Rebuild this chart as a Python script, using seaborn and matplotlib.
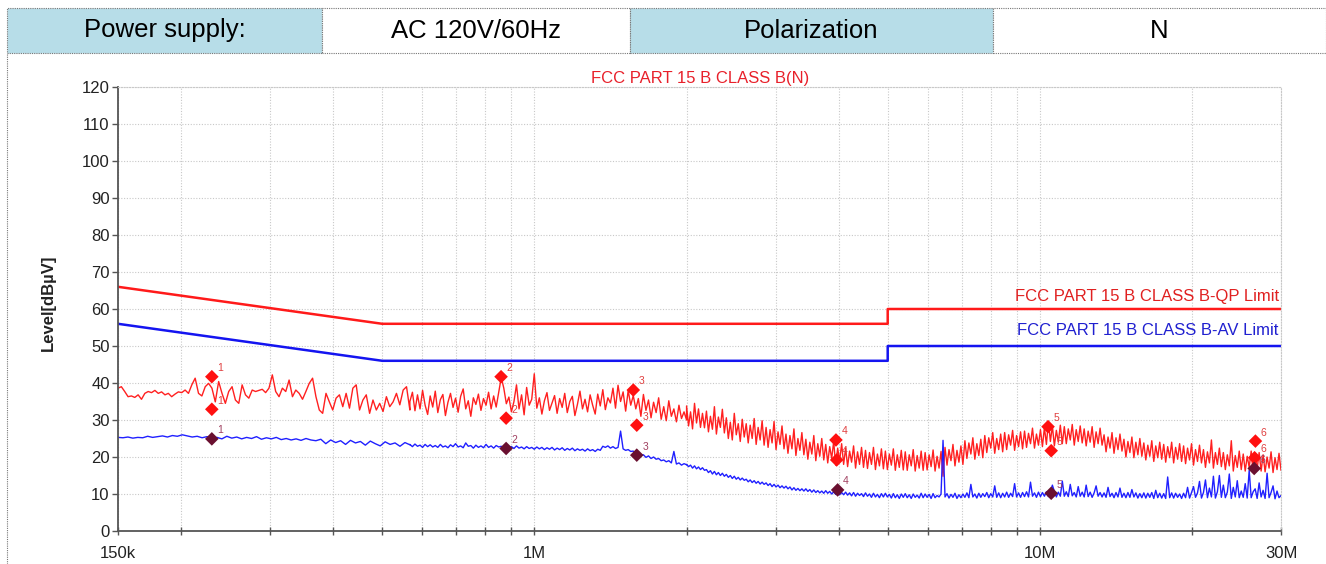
import numpy as np
import pandas as pd
import matplotlib
matplotlib.use("Agg")
import matplotlib.pyplot as plt
import matplotlib.transforms as mtransforms
from matplotlib.patches import Rectangle
from matplotlib.lines import Line2D
import seaborn as sns

# ---------------- data (frequencies in MHz, levels in dBuV) ----------------
header_cells = ["Power supply:", "AC 120V/60Hz", "Polarization", "N"]

qp_limit_freq = [0.15, 0.5, 5.0, 5.0, 30.0]
qp_limit_level = [66, 56, 56, 60, 60]
av_limit_freq = [0.15, 0.5, 5.0, 5.0, 30.0]
av_limit_level = [56, 46, 46, 50, 50]

# peak scan (red), segment A: 150 kHz - 567 kHz
peak_a = [38.6, 39.0, 37.7, 36.3, 36.5, 36.1, 36.8, 35.6, 37.2, 37.7,
          37.4, 38.0, 37.2, 37.6, 36.8, 37.2, 36.3, 37.0, 37.6, 37.4,
          38.1, 37.2, 39.5, 41.3, 37.2, 36.5, 39.0, 39.9, 38.6, 34.9,
          40.4, 37.2, 34.5, 37.7, 39.0, 35.4, 34.5, 39.5, 36.8, 35.9,
          38.1, 37.7, 38.0, 38.3, 37.4, 38.6, 42.2, 37.7, 36.3, 38.6,
          37.7, 40.8, 36.3, 38.1, 37.2, 35.6, 37.7, 39.9, 41.3, 36.3,
          32.7, 31.8, 37.2, 34.9, 32.7, 35.9, 36.8, 33.6, 37.2, 33.2,
          38.6, 39.5, 32.7, 35.4, 36.8, 31.8, 35.4, 32.7, 34.5, 32.3,
          36.3, 33.6, 34.9, 37.2, 34.1, 38.1, 39.0, 32.7]
# segment B: 567 kHz - 2 MHz
peak_b = [35.0, 37.5, 32.5, 36.8, 33.0, 38.0, 34.0, 31.5, 36.5, 33.5,
          37.8, 32.0, 35.5, 36.9, 31.2, 34.8, 37.2, 33.4, 35.9, 32.1,
          36.4, 38.4, 33.0, 35.2, 31.0, 36.0, 34.2, 37.0, 32.6, 35.8,
          34.0, 37.5, 33.0, 36.5, 33.5, 37.5, 41.5, 38.6, 34.4, 36.2,
          32.2, 35.0, 39.5, 33.0, 36.8, 31.4, 38.8, 34.0, 35.6, 42.5,
          33.2, 36.0, 31.6, 35.2, 37.4, 32.6, 34.6, 36.6, 31.8, 35.8,
          33.4, 37.2, 32.0, 35.0, 36.4, 31.2, 34.2, 37.8, 33.0, 35.6,
          32.2, 36.8, 34.0, 31.6, 37.0, 33.8, 38.2, 32.8, 36.0, 34.6,
          38.6, 33.2, 39.4, 35.0, 37.6, 32.4, 38.0, 34.0, 36.6, 33.0,
          35.8, 31.0, 36.9, 32.6, 35.4, 30.6, 34.8, 32.0, 36.0, 30.2,
          33.6, 29.8, 35.2, 31.0, 33.0, 29.5, 34.0, 30.4, 32.2, 30.0]
# segment C: 2 MHz - 30 MHz
peak_c = [33.8, 28.4, 32.2, 27.6, 34.5, 29.2, 33.0, 28.0, 31.8, 27.9,
          32.4, 26.8, 31.0, 27.5, 33.6, 26.2, 30.8, 28.0, 32.9, 26.5,
          30.6, 25.0, 29.4, 24.6, 31.8, 26.0, 29.0, 24.2, 30.2, 25.4,
          29.0, 23.8, 28.6, 25.0, 30.4, 23.4, 28.0, 24.6, 29.8, 23.2,
          28.0, 22.6, 27.4, 23.8, 29.6, 22.0, 26.8, 23.4, 28.4, 22.2,
          26.2, 21.0, 25.8, 22.2, 27.6, 20.4, 25.0, 21.8, 26.6, 20.6,
          24.8, 19.4, 24.0, 20.8, 25.8, 19.0, 23.6, 20.2, 25.0, 19.2,
          23.4, 18.4, 22.8, 19.6, 24.2, 17.8, 22.4, 19.0, 23.6, 18.0,
          22.4, 17.4, 21.6, 18.6, 23.0, 17.0, 21.4, 18.0, 22.6, 17.2,
          21.8, 16.9, 21.2, 18.0, 22.6, 16.6, 20.8, 17.6, 22.2, 16.8,
          21.6, 16.6, 20.8, 17.8, 22.2, 16.4, 20.6, 17.2, 21.8, 16.5,
          21.4, 16.4, 20.6, 17.6, 22.0, 16.2, 20.4, 17.0, 21.6, 16.4,
          21.2, 16.5, 20.6, 17.4, 21.9, 16.2, 20.2, 17.0, 21.5, 14.8,
          22.6, 17.8, 22.0, 19.0, 23.4, 17.6, 21.8, 18.6, 23.0, 18.0,
          24.4, 19.6, 23.8, 20.8, 25.2, 19.4, 23.6, 20.4, 24.8, 19.8,
          25.8, 21.2, 25.2, 22.4, 26.6, 21.0, 25.0, 22.0, 26.2, 21.4,
          26.6, 22.0, 26.0, 23.2, 27.2, 21.8, 25.8, 22.8, 26.8, 22.2,
          27.0, 22.6, 26.4, 23.6, 27.8, 22.4, 26.2, 23.2, 27.4, 22.8,
          28.0, 23.4, 29.6, 24.2, 28.4, 23.0, 27.2, 24.0, 28.6, 23.6,
          28.2, 23.6, 27.6, 24.6, 28.8, 23.2, 27.4, 24.2, 28.4, 23.8,
          27.6, 23.0, 27.0, 24.0, 28.2, 22.6, 26.8, 23.6, 27.8, 23.2,
          26.0, 21.4, 25.4, 22.4, 26.6, 21.0, 25.2, 22.0, 26.2, 21.6,
          24.8, 20.0, 24.2, 21.2, 25.4, 19.8, 24.0, 20.6, 25.0, 20.2,
          23.8, 19.2, 23.2, 20.2, 24.4, 18.8, 23.0, 19.8, 24.0, 19.4,
          23.4, 18.6, 22.8, 19.8, 24.0, 18.4, 22.6, 19.4, 23.6, 18.8,
          23.0, 18.2, 22.4, 19.2, 23.6, 17.8, 22.0, 18.8, 23.2, 18.4,
          22.0, 17.2, 21.4, 18.4, 24.6, 17.0, 21.2, 18.0, 22.4, 17.4,
          21.2, 16.6, 20.6, 17.6, 24.4, 16.2, 20.4, 17.2, 21.6, 16.6,
          20.8, 16.2, 20.2, 17.2, 21.6, 15.8, 20.0, 16.8, 21.2, 16.2,
          20.6, 16.0, 20.0, 17.0, 21.4, 15.8, 19.8, 16.6, 21.0, 16.4]

# average scan (blue)
avg_a = [25.3, 25.2, 25.4, 25.1, 25.3, 25.2, 25.6, 25.3, 25.5, 25.7,
         25.4, 25.8, 25.6, 26.0, 25.7, 25.4, 25.6, 25.2, 25.5, 25.0,
         25.3, 24.9, 25.6, 25.1, 25.4, 24.9, 25.3, 25.0, 25.5, 24.8,
         25.2, 24.9, 25.3, 24.7, 25.0, 24.6, 24.9, 24.5, 25.0, 24.6,
         24.4, 24.8, 23.6, 24.6, 23.9, 24.4, 23.4, 24.5, 23.8, 24.2,
         23.2, 24.3, 23.6, 23.0, 24.1, 23.4, 23.8, 22.9, 23.9, 23.3]
avg_b = [23.4, 22.8, 23.5, 22.9, 23.2, 22.6, 23.4, 22.8, 23.3, 22.7,
         23.1, 22.6, 23.4, 22.7, 23.0, 22.5, 23.3, 22.8, 23.6, 22.7,
         23.0, 22.5, 23.8, 22.9, 23.1, 22.4, 23.2, 22.6, 23.0, 22.5,
         23.4, 22.6, 23.0, 22.4, 23.1, 22.7, 22.9, 22.3, 23.0, 22.5,
         22.8, 22.3, 23.0, 22.4, 22.7, 22.2, 22.8, 22.3, 22.6, 22.1,
         22.7, 22.2, 22.6, 22.0, 22.5, 22.1, 22.6, 21.9, 22.4, 22.0,
         22.5, 21.8, 22.3, 21.9, 22.4, 21.7, 22.2, 21.8, 22.1, 21.6,
         22.2, 21.7, 22.0, 21.5, 22.1, 21.8, 22.9, 22.6, 23.0, 22.4,
         22.8, 22.3, 22.6, 27.0, 22.2, 21.8, 22.0, 21.5, 21.6, 20.8,
         21.0, 20.4, 20.6, 19.9, 20.3, 19.6, 20.0, 19.4, 19.6, 19.0,
         19.2, 18.7, 19.0, 18.4, 21.5, 18.1, 18.4, 17.8, 18.2, 17.9]
avg_c = [18.0, 17.4, 17.8, 17.0, 17.6, 16.8, 17.3, 16.6, 17.1, 16.4,
         16.6, 15.8, 16.3, 15.4, 16.1, 15.2, 15.8, 15.0, 15.6, 14.8,
         15.3, 14.5, 15.0, 14.2, 14.8, 14.0, 14.5, 13.8, 14.3, 13.7,
         14.0, 13.3, 13.8, 13.1, 13.6, 12.9, 13.4, 12.7, 13.2, 12.6,
         13.0, 12.3, 12.8, 12.0, 12.6, 11.9, 12.4, 11.7, 12.2, 11.6,
         12.1, 11.4, 11.9, 11.1, 11.7, 11.0, 11.5, 10.9, 11.4, 10.8,
         11.4, 10.7, 11.2, 10.5, 11.1, 10.4, 10.9, 10.3, 10.8, 10.2,
         10.9, 10.2, 10.7, 10.0, 10.6, 9.9, 10.5, 9.8, 10.4, 9.8,
         10.5, 9.7, 10.3, 9.5, 10.4, 9.4, 10.2, 9.6, 10.1, 9.3,
         10.3, 9.4, 10.0, 9.1, 10.2, 9.2, 9.9, 9.0, 10.1, 9.2,
         10.2, 9.2, 9.9, 8.9, 10.1, 9.0, 9.8, 8.8, 10.0, 9.1,
         10.1, 9.0, 9.8, 8.8, 10.0, 9.1, 9.7, 8.9, 10.2, 9.0,
         10.0, 9.1, 9.9, 8.8, 10.1, 9.0, 9.6, 9.2, 10.0, 24.5,
         9.2, 10.1, 8.9, 9.9, 9.1, 10.2, 8.8, 9.8, 9.0, 10.0,
         9.1, 10.3, 9.0, 12.6, 9.2, 10.0, 8.9, 10.2, 9.1, 10.1,
         9.3, 10.4, 9.0, 10.1, 9.2, 12.2, 9.1, 10.3, 9.0, 10.2,
         9.2, 10.5, 9.1, 10.2, 9.3, 12.8, 9.2, 10.3, 9.1, 10.4,
         9.3, 10.6, 9.2, 13.2, 9.4, 10.3, 9.1, 10.5, 9.3, 10.4,
         9.4, 10.6, 9.3, 10.4, 12.4, 10.7, 9.2, 10.5, 9.4, 13.5,
         9.4, 10.6, 9.3, 12.6, 9.5, 10.4, 9.2, 12.0, 9.4, 10.5,
         9.2, 12.4, 9.3, 10.5, 9.1, 10.3, 12.2, 9.4, 10.4, 9.2,
         10.3, 9.1, 11.8, 9.3, 10.2, 9.0, 10.4, 9.2, 11.6, 9.1,
         10.2, 9.0, 10.4, 9.1, 11.2, 9.2, 10.3, 8.9, 10.1, 9.0,
         10.3, 8.9, 10.2, 9.1, 10.4, 8.8, 11.0, 9.0, 10.2, 8.9,
         10.1, 8.8, 14.6, 9.0, 10.3, 8.9, 10.2, 9.1, 10.0, 8.8,
         10.2, 9.0, 11.8, 8.9, 10.4, 12.0, 9.1, 10.3, 13.4, 8.9,
         10.4, 13.8, 9.0, 11.6, 9.2, 14.8, 8.9, 10.6, 15.0, 9.1,
         12.4, 9.0, 10.5, 15.4, 8.8, 11.8, 9.2, 13.6, 9.0, 10.8,
         9.1, 12.8, 8.9, 16.4, 9.0, 10.6, 11.4, 8.8, 13.0, 9.2,
         11.0, 8.8, 15.6, 9.0, 10.4, 12.2, 8.7, 10.8, 9.0, 9.6]

# segment frequency ranges (MHz)
seg_a = (0.15, 0.567)
seg_b = (0.567, 2.0)
seg_c = (2.0, 30.0)

# final markers
mk_labels = ["1", "2", "3", "4", "5", "6"]
mk_pk_freq = [0.230, 0.859, 1.569, 3.95, 10.38, 26.7]
mk_pk_level = [41.7, 41.7, 38.1, 24.6, 28.2, 24.3]
mk_qp_freq = [0.230, 0.879, 1.594, 3.963, 10.53, 26.6]
mk_qp_level = [32.9, 30.5, 28.6, 19.2, 21.7, 19.8]
mk_av_freq = [0.230, 0.879, 1.594, 3.98, 10.53, 26.55]
mk_av_level = [24.9, 22.3, 20.5, 11.1, 10.2, 16.9]

x_major = [0.15, 1, 10, 30]
x_major_labels = ["150k", "1M", "10M", "30M"]
x_minor = [0.2, 0.3, 0.4, 0.5, 0.6, 0.7, 0.8, 0.9,
           2, 3, 4, 5, 6, 7, 8, 9, 20]


def trace(parts):
    frames = []
    for (f0, f1), vals in parts:
        frames.append(pd.DataFrame({"freq": np.geomspace(f0, f1, len(vals)),
                                    "level": vals}))
    return pd.concat(frames, ignore_index=True)


peak_df = trace([(seg_a, peak_a), (seg_b, peak_b), (seg_c, peak_c)])
avg_df = trace([(seg_a, avg_a), (seg_b, avg_b), (seg_c, avg_c)])
qp_df = pd.DataFrame({"freq": qp_limit_freq, "level": qp_limit_level})
av_df = pd.DataFrame({"freq": av_limit_freq, "level": av_limit_level})

# ---------------- figure ----------------
sns.set_style("white")
plt.rcParams["font.family"] = ["Liberation Sans", "DejaVu Sans"]

W, H = 1326, 564
fig = plt.figure(figsize=(W / 100, H / 100), dpi=100)

# header table
cells_x = [7, 322, 630, 993, 1326]
cell_col = ["#b7dde8", "white", "#b7dde8", "white"]
y_top, y_bot = 8, 53
for i, txt in enumerate(header_cells):
    x0, x1 = cells_x[i], cells_x[i + 1]
    fig.patches.append(Rectangle((x0 / W, 1 - y_bot / H), (x1 - x0) / W,
                                 (y_bot - y_top) / H, transform=fig.transFigure,
                                 facecolor=cell_col[i], edgecolor="#777777",
                                 linewidth=0.8, linestyle=(0, (1, 1))))
    fig.text((x0 + x1) / 2 / W, 1 - (y_top + y_bot) / 2 / H, txt,
             ha="center", va="center", fontsize=18.5, color="black")
fig.lines.append(Line2D([7 / W, 7 / W], [0, 1 - y_bot / H], transform=fig.transFigure,
                        color="#777777", lw=0.8, linestyle=(0, (1, 1))))

ax = fig.add_axes([118 / W, 1 - 531 / H, (1281 - 118) / W, (531 - 87) / H])

sns.lineplot(data=peak_df, x="freq", y="level", ax=ax, sort=False, estimator=None,
             color="#ff2020", linewidth=1.0)
sns.lineplot(data=avg_df, x="freq", y="level", ax=ax, sort=False, estimator=None,
             color="#2020ff", linewidth=1.0)
sns.lineplot(data=qp_df, x="freq", y="level", ax=ax, sort=False, estimator=None,
             color="#ff1a1a", linewidth=1.8)
sns.lineplot(data=av_df, x="freq", y="level", ax=ax, sort=False, estimator=None,
             color="#1414f0", linewidth=1.8)

sns.scatterplot(x=mk_pk_freq, y=mk_pk_level, ax=ax, marker="D", s=48,
                color="#ff1010", edgecolor="none", zorder=5)
sns.scatterplot(x=mk_qp_freq, y=mk_qp_level, ax=ax, marker="D", s=48,
                color="#ff1010", edgecolor="none", zorder=5)
sns.scatterplot(x=mk_av_freq, y=mk_av_level, ax=ax, marker="D", s=48,
                color="#6a1030", edgecolor="none", zorder=5)
for lab, f, v in zip(mk_labels, mk_pk_freq, mk_pk_level):
    ax.annotate(lab, (f, v), xytext=(4, 4), textcoords="offset points",
                fontsize=7.5, color="#e04040", zorder=6)
for lab, f, v in zip(mk_labels, mk_qp_freq, mk_qp_level):
    ax.annotate(lab, (f, v), xytext=(4, 4), textcoords="offset points",
                fontsize=7.5, color="#e04040", zorder=6)
for lab, f, v in zip(mk_labels, mk_av_freq, mk_av_level):
    ax.annotate(lab, (f, v), xytext=(4, 4), textcoords="offset points",
                fontsize=7.5, color="#a04060", zorder=6)

ax.set_xscale("log")
ax.set_xlim(0.15, 30)
ax.set_ylim(0, 120)
ax.set_xticks(x_major)
ax.set_xticklabels(x_major_labels)
ax.set_xticks(x_minor, minor=True)
ax.set_xticklabels([], minor=True)
ax.set_yticks(range(0, 121, 10))
ax.set_xlabel("")
ax.set_ylabel("")
ax.grid(True, which="both", axis="x", color="#c8c8c8", linestyle=(0, (1, 1.5)), linewidth=0.8)
ax.grid(True, which="major", axis="y", color="#c8c8c8", linestyle=(0, (1, 1.5)), linewidth=0.8)
ax.set_axisbelow(True)

for side in ["top", "right"]:
    ax.spines[side].set_color("#c8c8c8")
    ax.spines[side].set_linestyle((0, (1, 1.5)))
    ax.spines[side].set_linewidth(0.8)
for side in ["left", "bottom"]:
    ax.spines[side].set_color("#555555")
    ax.spines[side].set_linewidth(1.3)

ax.tick_params(axis="y", which="major", length=4, width=1, color="#555555",
               labelsize=12, labelcolor="#222222", pad=2, left=True)
ax.tick_params(axis="x", which="both", direction="inout", length=6, width=1,
               color="#555555", labelsize=12, labelcolor="#222222", pad=8, bottom=True)

fig.text(700 / W, 1 - 78 / H, "FCC PART 15 B CLASS B(N)", ha="center", va="center",
         fontsize=12, color="#e8202a")
fig.text(48 / W, 1 - 303 / H, "Level[dBµV]", rotation=90, ha="center", va="center",
         fontsize=12, fontweight="bold", color="#222222")

blend = mtransforms.blended_transform_factory(ax.transAxes, ax.transData)
ax.text(0.998, 63.5, "FCC PART 15 B CLASS B-QP Limit", transform=blend,
        ha="right", va="center", fontsize=12, color="#e02020")
ax.text(0.998, 54.1, "FCC PART 15 B CLASS B-AV Limit", transform=blend,
        ha="right", va="center", fontsize=12, color="#2020d0")

fig.savefig("out.png", dpi=100)
